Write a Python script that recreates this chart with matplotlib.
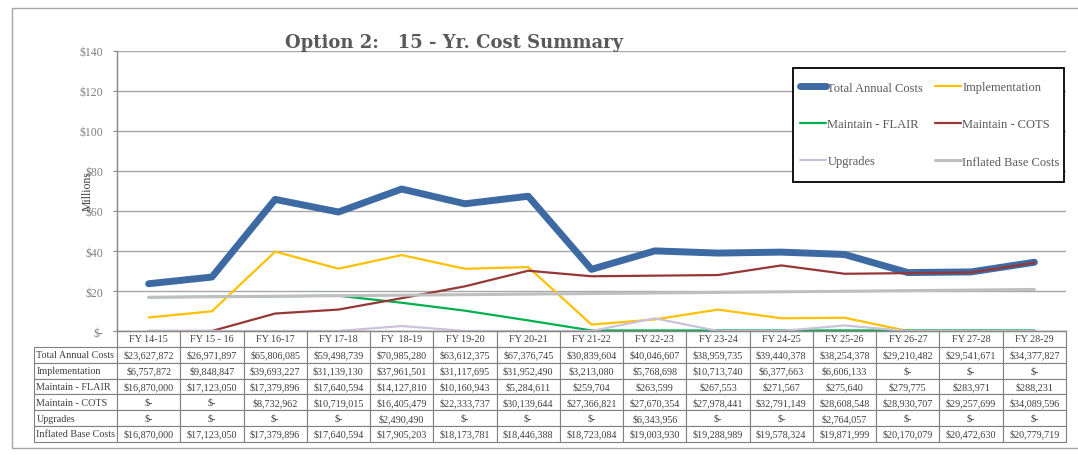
#!/usr/bin/env python3
"""Option 2: 15-year cost summary, line chart with data table below."""

import matplotlib
matplotlib.use("Agg")
import matplotlib.pyplot as plt
from matplotlib.patches import Rectangle

fiscal_years = ["FY 14-15", "FY 15 - 16", "FY 16-17", "FY 17-18", "FY  18-19",
                "FY 19-20", "FY 20-21", "FY 21-22", "FY 22-23", "FY 23-24",
                "FY 24-25", "FY 25-26", "FY 26-27", "FY 27-28", "FY 28-29"]

total_annual = [23627872, 26971897, 65806085, 59498739, 70985280, 63612375, 67376745,
                30839604, 40046607, 38959735, 39440378, 38254378, 29210482, 29541671, 34377827]
implementation = [6757872, 9848847, 39693227, 31139130, 37961501, 31117695, 31952490,
                  3213080, 5768698, 10713740, 6377663, 6606133, 0, 0, 0]
maintain_flair = [16870000, 17123050, 17379896, 17640594, 14127810, 10160943, 5284611,
                  259704, 263599, 267553, 271567, 275640, 279775, 283971, 288231]
maintain_cots = [0, 0, 8732962, 10719015, 16405479, 22333737, 30139644,
                 27366821, 27670354, 27978441, 32791149, 28608548, 28930707, 29257699, 34089596]
upgrades = [0, 0, 0, 0, 2490490, 0, 0, 0, 6343956, 0, 0, 2764057, 0, 0, 0]
inflated_base = [16870000, 17123050, 17379896, 17640594, 17905203, 18173781, 18446388,
                 18723084, 19003930, 19288989, 19578324, 19871999, 20170079, 20472630, 20779719]

series_names = ["Total Annual Costs", "Implementation", "Maintain - FLAIR",
                "Maintain - COTS", "Upgrades", "Inflated Base Costs"]
series_values = [total_annual, implementation, maintain_flair,
                 maintain_cots, upgrades, inflated_base]
series_colors = ["#3e6aa4", "#ffc000", "#00b050", "#953735", "#ccc1da", "#bfbfbf"]
series_widths = [5.0, 1.6, 1.6, 1.6, 1.6, 2.2]

y_ticks = [0, 20, 40, 60, 80, 100, 120, 140]

SERIF = ["Liberation Serif", "DejaVu Serif"]
W, H = 1078, 456
AX_L, AX_R, AX_T, AX_B = 117, 1066, 52, 332   # plot area in pixels
AX_W, AX_H = AX_R - AX_L, AX_B - AX_T


def money(v):
    return "$-" if v == 0 else f"${v:,.0f}"


def ytick_label(v):
    return "$-" if v == 0 else f"${v:.0f}"


fig = plt.figure(figsize=(W / 100, H / 100), dpi=100)
fig.patches.append(Rectangle((12 / W, 1 - 449 / H), (W + 20 - 12) / W, (449 - 9) / H,
                             transform=fig.transFigure, fill=False,
                             edgecolor="#a6a6a6", linewidth=1.0))

ax = fig.add_axes([AX_L / W, 1 - AX_B / H, AX_W / W, AX_H / H])
n = len(fiscal_years)
xs = [i + 0.5 for i in range(n)]

lines = []
for name, vals, color, lw in zip(series_names, series_values, series_colors, series_widths):
    ln, = ax.plot(xs, [v / 1e6 for v in vals], color=color, linewidth=lw,
                  label=name, solid_capstyle="round", solid_joinstyle="round")
    lines.append(ln)

ax.set_xlim(0, n)
ax.set_ylim(0, 140)
ax.set_yticks(y_ticks)
ax.set_yticklabels([ytick_label(v) for v in y_ticks], family=SERIF,
                   fontsize=8.5, color="#7f7f7f")
ax.set_xticks([])
ax.tick_params(axis="y", length=3, color="#868686", pad=7)
ax.grid(axis="y", color="#a6a6a6", linewidth=1.0)
ax.set_axisbelow(True)
for side in ("top", "right"):
    ax.spines[side].set_visible(False)
for side in ("left", "bottom"):
    ax.spines[side].set_color("#868686")
    ax.spines[side].set_linewidth(1.0)

fig.text(88 / W, 1 - 191 / H, "Millions", rotation=90, ha="center", va="center",
         family=SERIF, fontsize=8.5, color="#404040")

fig.text(454 / W, 1 - 43 / H, "Option 2:   15 - Yr. Cost Summary", ha="center",
         va="center", family="DejaVu Serif", fontweight="bold", fontsize=13,
         color="#595959")

# legend laid out row-wise (matplotlib fills columns first); frame drawn separately
fig.patches.append(Rectangle((793 / W, 1 - 183 / H), (1064 - 793) / W, (183 - 69) / H,
                             transform=fig.transFigure, fill=True, facecolor="white",
                             edgecolor="black", linewidth=1.3, zorder=5))
order = [0, 2, 4, 1, 3, 5]
leg = fig.legend([lines[i] for i in order], [series_names[i] for i in order],
                 loc="upper left", bbox_to_anchor=(800 / W, 1 - 82.5 / H), ncol=2,
                 prop={"family": SERIF, "size": 9}, frameon=False,
                 borderaxespad=0, borderpad=0, handlelength=2.1,
                 handletextpad=0.1, labelspacing=2.0, columnspacing=0.9)
leg.set_zorder(6)
for t in leg.get_texts():
    t.set_color("#595959")

# data table under the axis; bbox covers the data cells, row labels hang to the left
cell_text = [[money(v) for v in vals] for vals in series_values]
label_w = (AX_L - 34) / AX_W
col_w = 1 / n
head_h = 16 / AX_H
row_h = 15.8 / AX_H
tbl_h = head_h + row_h * len(series_names)
tbl = ax.table(cellText=cell_text, rowLabels=series_names, colLabels=fiscal_years,
               cellLoc="center", rowLoc="left", bbox=[0, -tbl_h, 1, tbl_h])
tbl._autoColumns = []
tbl.auto_set_font_size(False)
for (r, c), cell in tbl.get_celld().items():
    cell.set_width(label_w if c == -1 else col_w)
    cell.set_height(head_h if r == 0 else row_h)
    cell.set_edgecolor("#808080")
    cell.set_linewidth(0.8)
    cell.get_text().set_fontsize(7.3)
    cell.get_text().set_family(SERIF)
    cell.get_text().set_color("#404040")
    if c == -1:
        cell.PAD = 0.03

fig.savefig("out.png", dpi=100)
